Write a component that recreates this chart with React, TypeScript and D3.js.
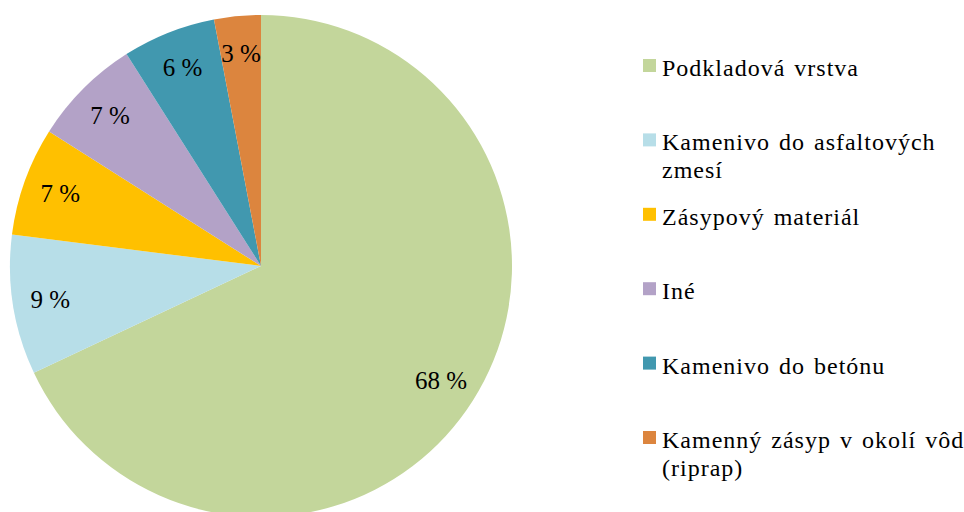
import React from "react";
import * as d3 from "d3";

const categories = [
  "Podkladová vrstva",
  "Kamenivo do asfaltových zmesí",
  "Zásypový materiál",
  "Iné",
  "Kamenivo do betónu",
  "Kamenný zásyp v okolí vôd (riprap)",
];
const legendLines = [
  ["Podkladová vrstva"],
  ["Kamenivo do asfaltových", "zmesí"],
  ["Zásypový materiál"],
  ["Iné"],
  ["Kamenivo do betónu"],
  ["Kamenný zásyp v okolí vôd", "(riprap)"],
];
const values = [68, 9, 7, 7, 6, 3];
const labels = ["68 %", "9 %", "7 %", "7 %", "6 %", "3 %"];
const colors = ["#C3D69B", "#B7DEE8", "#FFC000", "#B3A2C7", "#4198AF", "#DC853E"];

export default function App() {
  const W = 964, H = 512;
  const cx = 261, cy = 266, r = 251;
  const pie = d3.pie<number>().sort(null).value((d) => d)(values);
  const arc = d3.arc<d3.PieArcDatum<number>>().innerRadius(0).outerRadius(r);
  const labelArc = d3.arc<d3.PieArcDatum<number>>().innerRadius(r * 0.85).outerRadius(r * 0.85);
  const baseY = d3.scaleLinear().domain([0, 5]).range([76, 448]);
  return (
    <div style={{ fontFamily: "Liberation Serif, serif" }}>
      <svg width={W} height={H} style={{ position: "absolute", left: 0, top: 0, fontFamily: "Liberation Serif, serif" }}>
        <rect width={W} height={H} fill="#fff" />
        <g transform={`translate(${cx},${cy})`}>
          {pie.map((p, i) => (
            <path key={i} d={arc(p) || ""} fill={colors[i]} />
          ))}
          {pie.map((p, i) => {
            const [x, y] = labelArc.centroid(p);
            return (
              <text key={i} x={x} y={y} dy="0.35em" textAnchor="middle" fontSize={25} fill="#000">
                {labels[i]}
              </text>
            );
          })}
        </g>
        {categories.map((c, i) => {
          const by = baseY(i);
          return (
            <g key={c}>
              <rect x={643} y={by - 17} width={13} height={13} fill={colors[i]} />
              {legendLines[i].map((l, j) => (
                <text key={j} x={662} y={by + j * 28} fontSize={24} letterSpacing={1} wordSpacing={2} fill="#000">
                  {l}
                </text>
              ))}
            </g>
          );
        })}
      </svg>
    </div>
  );
}
